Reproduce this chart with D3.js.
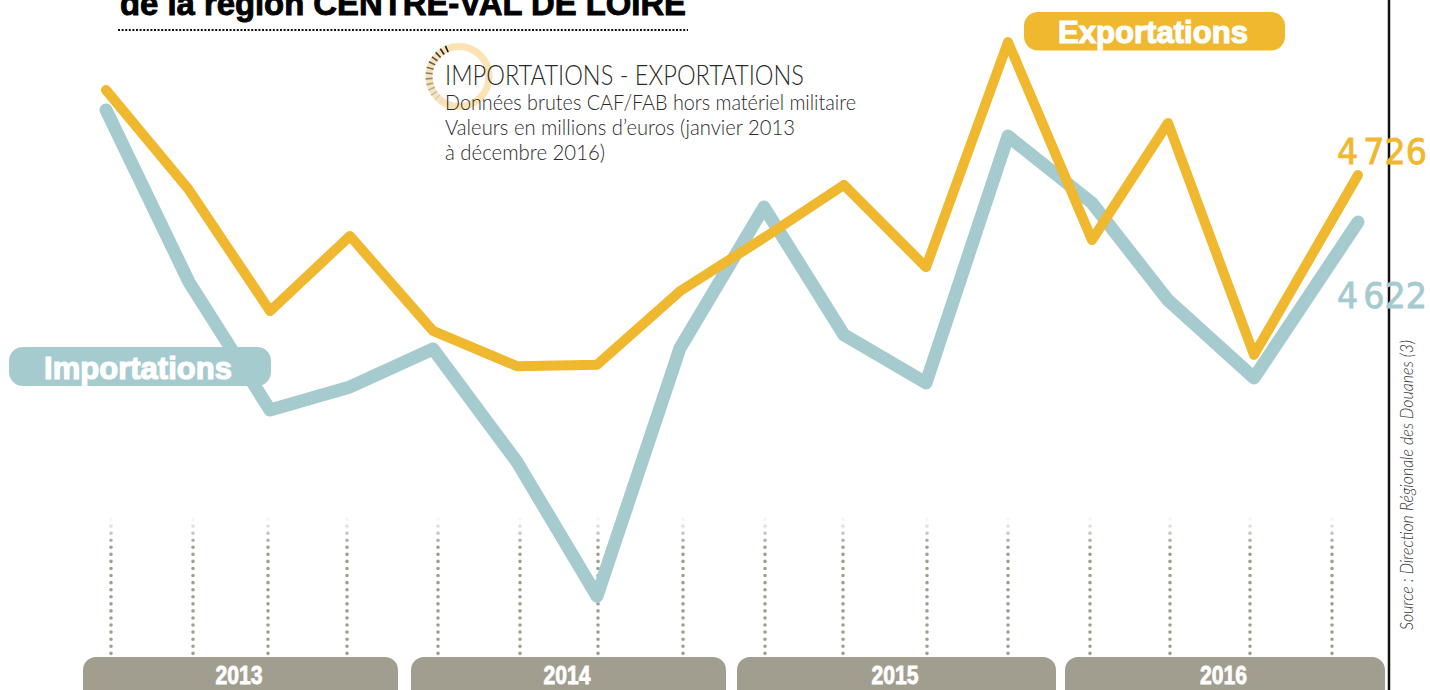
<!DOCTYPE html>
<html><head><meta charset="utf-8">
<script src="https://cdnjs.cloudflare.com/ajax/libs/d3/7.8.5/d3.min.js"></script>
<style>html,body{margin:0;background:#fff;overflow:hidden}svg{display:block}text{white-space:pre}</style>
</head><body><svg id="c" width="1430" height="690"></svg>
<script>
const quarters=["T1 2013","T2 2013","T3 2013","T4 2013","T1 2014","T2 2014","T3 2014","T4 2014","T1 2015","T2 2015","T3 2015","T4 2015","T1 2016","T2 2016","T3 2016","T4 2016"];
const exportations=[4914,4693,4425,4591,4381,4303,4306,4469,4587,4704,4522,5020,4582,4841,4328,4726];
const importations=[4870,4489,4206,4257,4341,4091,3794,4343,4655,4372,4266,4812,4664,4449,4277,4622];
const years=["2013","2014","2015","2016"];
const titleLine="de la région CENTRE-VAL DE LOIRE";
const noteLines=["Données brutes CAF/FAB hors matériel militaire","Valeurs en millions d’euros (janvier 2013","à décembre 2016)"];

const svg=d3.select("#c");
const idx=quarters.map((d,i)=>i);
const x=d3.scaleLinear().domain(idx).range([106,189,270,350,433,517,597,680,764,844,926,1008,1092,1168,1254,1358]);
const xTick=d3.scaleLinear().domain(idx).range([111,193,268,347,438,520,598,683,765,843,927,1008,1090,1170,1250,1332]);
const y=d3.scaleLinear().domain([4622,4726]).range([222,175]);
const yearBand=d3.scaleOrdinal().domain(years).range([[83,398],[411,726],[737,1056],[1065,1385]]);
const GOLD="#f0b82f",TEAL="#a6cbcf",GREY="#a19e90";

const defs=svg.append("defs");
const g=defs.append("linearGradient").attr("id","fade").attr("gradientUnits","userSpaceOnUse").attr("x1",0).attr("x2",0).attr("y1",516).attr("y2",546);
g.append("stop").attr("offset",0).attr("stop-color",GREY).attr("stop-opacity",0);
g.append("stop").attr("offset",1).attr("stop-color",GREY).attr("stop-opacity",1);

// title
svg.append("text").attr("x",120).attr("y",15).attr("font-family","Liberation Sans").attr("font-weight",700).attr("font-size",33)
 .attr("stroke","#000").attr("stroke-width",.9)
 .attr("textLength",566).attr("lengthAdjust","spacingAndGlyphs").text(titleLine);
svg.append("line").attr("x1",118).attr("x2",688).attr("y1",30).attr("y2",30).attr("stroke","#111").attr("stroke-width",2).attr("stroke-dasharray","2 1.6");

// right rule
svg.append("line").attr("x1",1389).attr("x2",1389).attr("y1",0).attr("y2",690).attr("stroke","#111").attr("stroke-width",2.5);

// ring
const rc=[459,76.5];
svg.append("circle").attr("cx",rc[0]).attr("cy",rc[1]).attr("r",30).attr("fill","none").attr("stroke","#fbe3b5").attr("stroke-width",7);
const ringG=svg.append("g");
d3.range(0,13).forEach(i=>{
  const t=(-24-i*10)*Math.PI/180;
  const c=d3.interpolateRgb("#1a1a1a","#e2e0d6")(i/12);
  ringG.append("line")
   .attr("x1",rc[0]+26.5*Math.sin(t)).attr("y1",rc[1]-26.5*Math.cos(t))
   .attr("x2",rc[0]+33.5*Math.sin(t)).attr("y2",rc[1]-33.5*Math.cos(t))
   .attr("stroke",c).attr("stroke-width",1.6);
});

// notes
const lightFont="Lato";
svg.append("text").attr("x",445).attr("y",85).attr("font-family",lightFont).attr("font-weight",300).attr("font-size",27).attr("fill","#2b2b2b")
 .attr("textLength",359).attr("lengthAdjust","spacingAndGlyphs").text("IMPORTATIONS - EXPORTATIONS");
const noteW=[411,350,160];
svg.selectAll("text.note").data(noteLines).join("text").attr("class","note").attr("x",445)
 .attr("y",(d,i)=>110+i*25).attr("font-family",lightFont).attr("font-weight",300).attr("font-size",21).attr("fill","#2b2b2b")
 .attr("textLength",(d,i)=>noteW[i]).attr("lengthAdjust","spacingAndGlyphs").text(d=>d);

// vertical dotted guides
svg.selectAll("line.guide").data(idx).join("line").attr("class","guide")
 .attr("x1",d=>xTick(d)).attr("x2",d=>xTick(d)+.01).attr("y1",519).attr("y2",656)
 .attr("stroke","url(#fade)").attr("stroke-width",3.6).attr("stroke-linecap","round").attr("stroke-dasharray","0 7.07");

// lines
const line=d3.line().x((d,i)=>x(i)).y(d=>y(d));
svg.append("path").attr("d",line(importations)).attr("fill","none").attr("stroke",TEAL).attr("stroke-width",13).attr("stroke-linejoin","round").attr("stroke-linecap","round");
svg.append("path").attr("d",line(exportations)).attr("fill","none").attr("stroke",GOLD).attr("stroke-width",10).attr("stroke-linejoin","round").attr("stroke-linecap","round");

// year pills
const ys=svg.selectAll("g.year").data(years).join("g").attr("class","year");
ys.append("rect").attr("x",d=>yearBand(d)[0]).attr("y",657).attr("width",d=>yearBand(d)[1]-yearBand(d)[0]).attr("height",50).attr("rx",13).attr("fill",GREY);
ys.append("text").attr("x",d=>(yearBand(d)[0]+yearBand(d)[1])/2-1.5).attr("y",684).attr("text-anchor","middle")
 .attr("font-family","Liberation Sans").attr("font-weight",700).attr("font-size",25).attr("fill","#fff").attr("stroke","#fff").attr("stroke-width",.8)
 .attr("textLength",47).attr("lengthAdjust","spacingAndGlyphs").text(d=>d);

// series pills
function pill(x0,y0,w,h,col,label,tx,ty,tw){
  svg.append("rect").attr("x",x0).attr("y",y0).attr("width",w).attr("height",h).attr("rx",14).attr("fill",col);
  svg.append("text").attr("x",tx).attr("y",ty).attr("font-family","Liberation Sans").attr("font-weight",700).attr("font-size",32)
   .attr("fill","#fff").attr("stroke","#fff").attr("stroke-width",1.2).attr("textLength",tw).attr("lengthAdjust","spacingAndGlyphs").text(label);
}
pill(9,347,262,39,TEAL,"Importations",44,379,188);
pill(1024,12,261,38.5,GOLD,"Exportations",1058,43,190);

// end values
const fmt=v=>{const s=String(v);return s[0]+" "+s.slice(1)};
[[exportations,GOLD,164],[importations,TEAL,308]].forEach(([s,c,by])=>{
  svg.append("text").attr("x",1337).attr("y",by).attr("font-family","DejaVu Sans").attr("font-weight",400).attr("font-size",36).attr("fill",c)
   .attr("stroke",c).attr("stroke-width",.9).attr("word-spacing",-6)
   .attr("textLength",90).attr("lengthAdjust","spacingAndGlyphs").text(fmt(s[s.length-1]));
});

// source
svg.append("text").attr("transform","translate(1413,630) rotate(-90)").attr("font-family",lightFont).attr("font-weight",300).attr("font-style","italic")
 .attr("font-size",18).attr("fill","#333").attr("textLength",290).attr("lengthAdjust","spacingAndGlyphs").text("Source : Direction Régionale des Douanes (3)");
</script></body></html>
